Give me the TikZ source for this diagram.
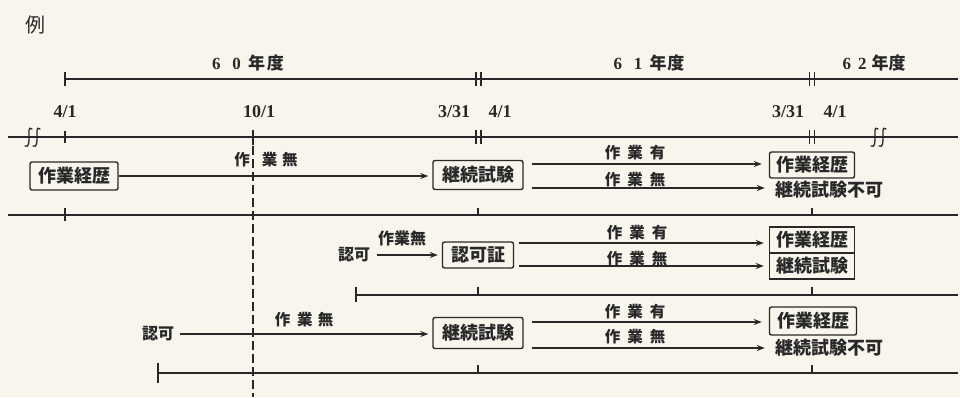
\documentclass[tikz,border=0pt]{standalone}
\usepackage{fontspec}
\setmainfont{Liberation Serif}
\newfontfamily\jp{Noto Sans CJK JP}
\usetikzlibrary{arrows.meta,calc}
\definecolor{ink}{RGB}{40,40,40}
\definecolor{paper}{RGB}{248,246,236}
\begin{document}
\begin{tikzpicture}[x=1pt,y=-1pt,
  ln/.style={line width=1.5pt,draw=ink},
  tk/.style={line width=1.3pt,draw=ink},
  box/.style={draw=ink,line width=1.4pt,rounded corners=2pt,inner sep=0pt,minimum height=28pt,
    font=\jp\bfseries\fontsize{18}{18}\selectfont,text=ink},
  txt/.style={inner sep=0pt,font=\jp\bfseries\fontsize{18}{18}\selectfont,text=ink},
  lbl/.style={inner sep=0pt,font=\jp\bfseries\fontsize{15.5}{15.5}\selectfont,text=ink},
  num/.style={inner sep=0pt,font=\bfseries\fontsize{18}{18}\selectfont,text=ink},
  yr/.style={inner sep=0pt,font=\bfseries\fontsize{17}{17}\selectfont,text=ink},
  arr/.style={line width=1.4pt,draw=ink,-{Stealth[length=8pt,width=6pt]}}]
\useasboundingbox (0,0) rectangle (960,397);
\fill[paper] (0,0) rectangle (960,397);

% heading
\node[inner sep=0pt,font=\jp\fontsize{20}{20}\selectfont,text=ink] (rei) at (35,25) {例};

% fiscal years
\node[yr] (y60) at (248,63) {6\kern12pt 0\kern7pt{\jp 年\kern2pt 度}};
\node[yr] (y61) at (649,63) {6\kern12pt 1\kern7pt{\jp 年\kern1pt 度}};
\node[yr] (y62) at (874,63) {6\kern7pt 2\kern5pt{\jp 年度}};
\coordinate (tA) at (65,79);
\coordinate (tB) at (958,79);
\draw[ln] (tA) -- (tB);
\draw[ln] (65,72) -- (65,86);
\foreach \x in {476,481,809.5,814.5} \draw[tk] (\x,72) -- (\x,86);

% dates
\node[num] (d1) at (65,112) {4/1};
\node[num] (d2) at (259,112) {10/1};
\node[num] (d3) at (454,112) {3/31};
\node[num] (d4) at (500,112) {4/1};
\node[num] (d5) at (788,112) {3/31};
\node[num] (d6) at (835,112) {4/1};

% time axis
\coordinate (aA) at (8,137);
\coordinate (aB) at (958,137);
\draw[ln] (aA) -- (aB);
\draw[ln] (65,131) -- (65,143);
\draw[ln] (253,130) -- (253,145);
\foreach \x in {476,481,809.5,814.5} \draw[tk] (\x,130) -- (\x,144);
\foreach \x in {28,36,874,882}
  \draw[tk,line cap=round] (\x+4,129) .. controls (\x,126) and (\x+1,132) .. (\x+1,137)
     .. controls (\x+1,142) and (\x+1,148) .. (\x-3,146);
\draw[ln,dash pattern=on 9pt off 4pt] (253,146) -- (253,397);

% separators
\draw[ln] (8,215) -- (958,215);
\draw[ln] (65,208) -- (65,221);
\draw[tk] (478,208) -- (478,215);
\draw[tk] (812,208) -- (812,215);
\draw[ln] (356,295) -- (958,295);
\draw[ln] (356,287) -- (356,302);
\draw[tk] (478,287) -- (478,295);
\draw[tk] (812,287) -- (812,295);
\draw[ln] (158,373) -- (958,373);
\draw[ln] (158,363) -- (158,383);
\draw[tk] (478,365) -- (478,373);
\draw[tk] (812,365) -- (812,373);

% row 1
\node[box,minimum width=88pt] (r1a) at (74,176) {作業経歴};
\node[box,minimum width=90pt,minimum height=29pt] (r1b) at (478,175) {継続試験};
\node[box,minimum width=85pt,minimum height=26pt] (r1c) at (812,165) {作業経歴};
\node[txt] (r1d) at (829,190) {継続試験不可};
\draw[arr,shorten >=4pt] (r1a.east) -- (r1a.east -| r1b.west);
\node[lbl] (l1) at (266,160) {作\kern12pt 業\kern5pt 無};
\coordinate (s1u) at (532,164);
\coordinate (s1l) at (532,188);
\draw[arr,shorten >=7pt] (s1u) -- (s1u -| r1c.west);
\draw[arr,shorten >=10pt] (s1l) -- (s1l -| r1d.west);
\node[lbl] (l1u) at (635,153) {作\kern7pt 業\kern7pt 有};
\node[lbl] (l1l) at (635,180) {作\kern7pt 業\kern7pt 無};

% row 2
\node[txt,font=\jp\bfseries\fontsize{16}{16}\selectfont] (n2a) at (354,255) {認可};
\node[box,minimum width=71pt,minimum height=26pt] (n2b) at (478,255) {認可証};
\draw[arr,shorten <=7pt,shorten >=4pt] (n2a.east) -- (n2b.west);
\node[lbl,font=\jp\bfseries\fontsize{16}{16}\selectfont] (l2) at (402,238) {作業無};
\node[box,minimum width=85pt,minimum height=26pt,rounded corners=0pt] (n2c) at (812,240) {作業経歴};
\node[box,minimum width=85pt,minimum height=26pt,rounded corners=0pt] (n2d) at (812,266) {継続試験};
\coordinate (s2u) at (519,243);
\coordinate (s2l) at (519,266);
\draw[arr,shorten >=5pt] (s2u) -- (s2u -| n2c.west);
\draw[arr,shorten >=5pt] (s2l) -- (s2l -| n2d.west);
\node[lbl] (l2u) at (637,233) {作\kern7pt 業\kern7pt 有};
\node[lbl] (l2l) at (637,259) {作\kern7pt 業\kern7pt 無};

% row 3
\node[txt,font=\jp\bfseries\fontsize{16}{16}\selectfont] (n3a) at (158,334) {認可};
\node[box,minimum width=90pt,minimum height=31pt] (n3b) at (478,333) {継続試験};
\draw[arr,shorten <=6pt,shorten >=4pt] (n3a.east) -- (n3a.east -| n3b.west);
\node[lbl] (l3) at (304,320) {作\kern7pt 業\kern5pt 無};
\node[box,minimum width=87pt,minimum height=28pt] (n3c) at (813,321) {作業経歴};
\node[txt] (n3d) at (829,348) {継続試験不可};
\coordinate (s3u) at (532,322);
\coordinate (s3l) at (532,348);
\draw[arr,shorten >=7pt] (s3u) -- (s3u -| n3c.west);
\draw[arr,shorten >=10pt] (s3l) -- (s3l -| n3d.west);
\node[lbl] (l3u) at (635,312) {作\kern7pt 業\kern7pt 有};
\node[lbl] (l3l) at (635,337) {作\kern7pt 業\kern7pt 無};
\end{tikzpicture}
\end{document}
